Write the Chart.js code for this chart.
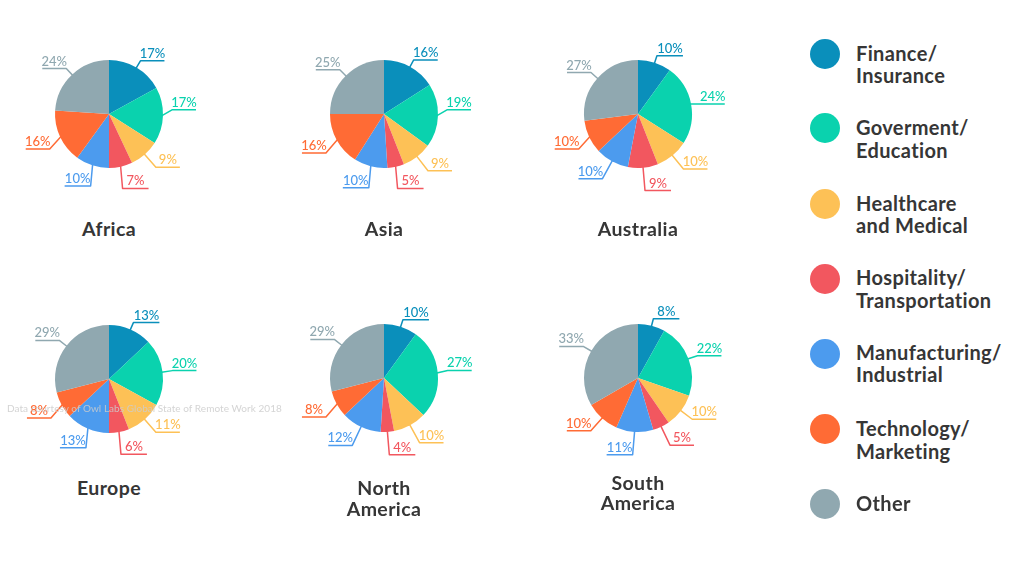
<!DOCTYPE html>
<html><head><meta charset="utf-8">
<script src="https://cdn.jsdelivr.net/npm/chart.js@4/dist/chart.umd.min.js"></script>
<style>
html,body{margin:0;padding:0;background:#fff;width:1024px;height:563px;overflow:hidden}
#stage{position:relative;width:1024px;height:563px;font-family:Lato,sans-serif;color:#363636}
canvas{position:absolute}
.t{position:absolute;font-weight:700;white-space:nowrap;line-height:1}
.title{font-size:19.5px;letter-spacing:.4px;transform:translate(-50%,-50%)}
.leg{font-size:20px;letter-spacing:.35px;transform:translateY(-50%)}
.dot{position:absolute;width:30px;height:30px;border-radius:50%}
#wm{position:absolute;left:7px;top:402px;font-size:10px;letter-spacing:.05px;color:rgba(205,205,205,.85);white-space:nowrap;font-family:Lato,sans-serif}
</style></head><body><div id="stage"></div>
<script>
const categories=["Finance/ Insurance","Goverment/ Education","Healthcare and Medical","Hospitality/ Transportation","Manufacturing/ Industrial","Technology/ Marketing","Other"];
const colors=["#0a8fbb","#0ad2ae","#fdc156","#f2575f","#4c9bee","#ff6b35","#90a8b0"];
const africa=[17,17,9,7,10,16,24];
const asia=[16,19,9,5,10,16,25];
const australia=[10,24,10,9,10,10,27];
const europe=[13,20,11,6,13,8,29];
const northAmerica=[10,27,10,4,12,8,29];
const southAmerica=[8,22,10,5,11,10,33];
const regions=[
 {name:["Africa"],data:africa,cx:109,cy:114,ty:[228.5]},
 {name:["Asia"],data:asia,cx:384,cy:114,ty:[228.5]},
 {name:["Australia"],data:australia,cx:638,cy:114,ty:[228.5]},
 {name:["Europe"],data:europe,cx:109,cy:379,ty:[487.5]},
 {name:["North","America"],data:northAmerica,cx:384,cy:378,ty:[487.5,508.5]},
 {name:["South","America"],data:southAmerica,cx:638,cy:378,ty:[482.5,502.5]}
];
const legendLines=[["Finance/","Insurance"],["Goverment/","Education"],["Healthcare","and Medical"],["Hospitality/","Transportation"],["Manufacturing/","Industrial"],["Technology/","Marketing"],["Other"]];
const legendY=[[53,75],[127,150],[203,225],[277,300],[352,374],[428,451],[503]];
const dotY=[54,128,204,279,354,429,504];
const W=280,H=190,R=54;
const stage=document.getElementById('stage');
const leaders={id:'leaders',afterDraw(chart){
 const c=chart.ctx,meta=chart.getDatasetMeta(0);
 c.save();
 meta.data.forEach((arc,i)=>{
  const a=(arc.startAngle+arc.endAngle)/2;
  const ux=Math.cos(a),uy=Math.sin(a);
  const sx=arc.x+ux*(R-1),sy=arc.y+uy*(R-1);
  const dir=ux>=0?1:-1;
  const ext=uy>0?9+14*uy*uy:7+3*(1-uy*uy);
  let ex=arc.x+ux*(R+ext),ey=arc.y+uy*(R+ext);
  if(ux>0&&uy>-.25&&uy<.45)ey=arc.y+uy*R*.5-5;
  else if(ux>0&&uy<=-.25&&uy>-.45)ey=arc.y+uy*R-3;
  if(ux<0&&uy>.2&&uy<.6)ey+=7;
  if(Math.abs(ux)<.4&&uy>0)ex=sx+dir*2;
  const fx=ex+dir*(Math.abs(ux)<.4?26:24);
  c.strokeStyle=colors[i];c.lineWidth=1.5;c.lineJoin='round';
  c.beginPath();c.moveTo(sx,sy);c.lineTo(ex,ey);c.lineTo(fx,ey);c.stroke();
  c.fillStyle=colors[i];c.font='500 13px Lato, sans-serif';c.textAlign='center';c.textBaseline='alphabetic';
  c.fillText(chart.data.datasets[0].data[i]+'%',(ex+fx)/2,ey-3);
 });
 c.restore();
}};
regions.forEach(r=>{
 const cv=document.createElement('canvas');
 cv.style.left=(r.cx-W/2)+'px';cv.style.top=(r.cy-H/2)+'px';
 cv.style.width=W+'px';cv.style.height=H+'px';cv.width=W;cv.height=H;
 stage.appendChild(cv);
 new Chart(cv,{type:'pie',plugins:[leaders],data:{labels:categories,datasets:[{data:r.data,backgroundColor:colors,borderWidth:0,radius:R}]},
  options:{responsive:false,animation:false,devicePixelRatio:1,layout:{padding:0},plugins:{legend:{display:false},tooltip:{enabled:false}}}});
 r.name.forEach((n,j)=>{
  const d=document.createElement('div');d.className='t title';d.textContent=n;
  d.style.left=r.cx+'px';d.style.top=r.ty[j]+'px';stage.appendChild(d);
 });
});
legendLines.forEach((ls,i)=>{
 const dot=document.createElement('div');dot.className='dot';dot.style.background=colors[i];
 dot.style.left='810px';dot.style.top=(dotY[i]-15)+'px';stage.appendChild(dot);
 ls.forEach((l,j)=>{
  const d=document.createElement('div');d.className='t leg';d.textContent=l;
  d.style.left='856px';d.style.top=legendY[i][j]+'px';stage.appendChild(d);
 });
});
const wm=document.createElement('div');wm.id='wm';wm.textContent='Data courtesy of Owl Labs Global State of Remote Work 2018';stage.appendChild(wm);
</script></body></html>
